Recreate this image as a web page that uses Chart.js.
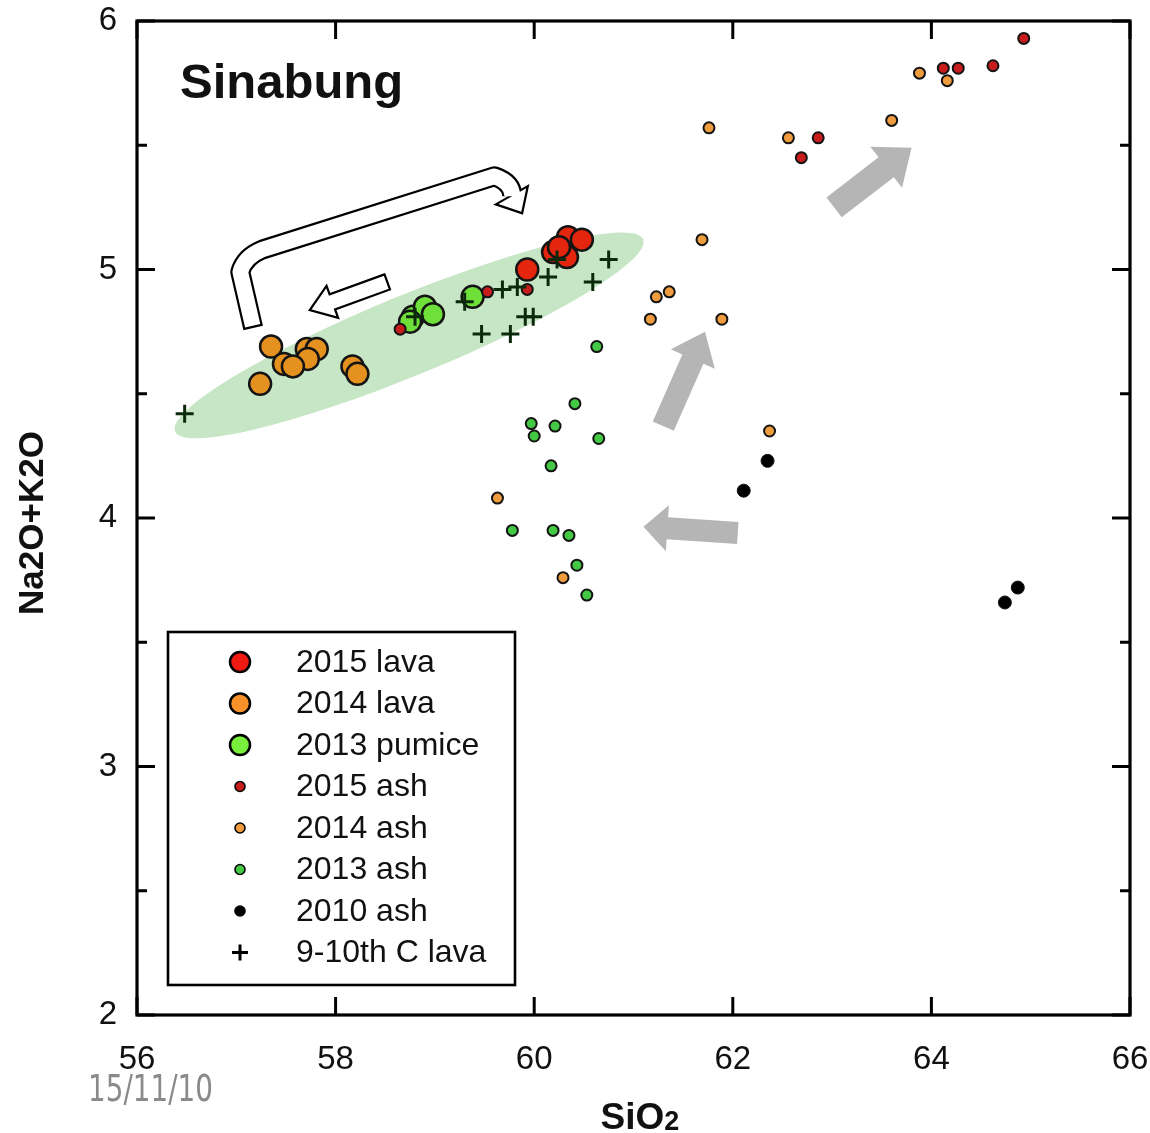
<!DOCTYPE html>
<html>
<head>
<meta charset="utf-8">
<script src="https://cdn.jsdelivr.net/npm/chart.js@4/dist/chart.umd.min.js"></script>
<style>
  html, body { margin: 0; padding: 0; background: #fff; }
  #wrap { position: relative; width: 1150px; height: 1133px; }
</style>
</head>
<body>
<div id="wrap"><canvas id="chart-tas" width="1150" height="1133"></canvas></div>
<script>
// Sinabung — total alkali vs silica

const X_TICKS = [56, 58, 60, 62, 64, 66];
const Y_TICKS = [2, 3, 4, 5, 6];

const LEGEND_LABELS = [
    "2015 lava", "2014 lava", "2013 pumice", "2015 ash",
    "2014 ash", "2013 ash", "2010 ash", "9-10th C lava",
];

// [SiO2, Na2O+K2O]
const lava2015 = [
    [60.34, 5.13], [60.48, 5.12], [60.19, 5.07], [60.33, 5.05], [60.25, 5.09], [59.93, 5.00],
];
const lava2014 = [
    [57.35, 4.69], [57.24, 4.54], [57.48, 4.62], [57.71, 4.68], [57.81, 4.68],
    [57.72, 4.64], [57.57, 4.61], [58.17, 4.61], [58.22, 4.58],
];
const pumice2013 = [
    [58.78, 4.81], [58.90, 4.85], [58.98, 4.82], [58.75, 4.79], [59.38, 4.89],
];
const ash2015 = [
    [58.65, 4.76], [59.53, 4.91], [59.93, 4.92], [64.93, 5.93], [64.12, 5.81],
    [64.27, 5.81], [64.62, 5.82], [62.86, 5.53], [62.69, 5.45],
];
const ash2014 = [
    [63.88, 5.79], [64.16, 5.76], [63.60, 5.60], [62.56, 5.53], [61.76, 5.57],
    [61.69, 5.12], [61.23, 4.89], [61.36, 4.91], [61.17, 4.80], [61.89, 4.80],
    [62.37, 4.35], [59.63, 4.08], [60.29, 3.76],
];
const ash2013 = [
    [60.63, 4.69], [60.41, 4.46], [59.97, 4.38], [60.21, 4.37], [60.00, 4.33],
    [60.65, 4.32], [60.17, 4.21], [59.78, 3.95], [60.19, 3.95], [60.35, 3.93],
    [60.43, 3.81], [60.53, 3.69],
];
const ash2010 = [
    [62.35, 4.23], [62.11, 4.11], [64.87, 3.72], [64.74, 3.66],
];
const lava910C = [
    [56.48, 4.42], [58.80, 4.81], [59.30, 4.87], [59.68, 4.92], [59.83, 4.93],
    [60.14, 4.97], [60.23, 5.04], [60.59, 4.95], [60.75, 5.04], [59.47, 4.74],
    [59.76, 4.74], [59.91, 4.81], [59.99, 4.81],
];

const FONT = "'Liberation Sans', Arial, Helvetica, sans-serif";

function pts(arr) {
    return arr.map(p => ({ x: p[0], y: p[1] }));
}

const STYLES = [
    { bg: "#e5260f", r: 11, bw: 2.5, ps: "circle" },
    { bg: "#e5911f", r: 11, bw: 2.5, ps: "circle" },
    { bg: "#6fe03a", r: 11, bw: 2.5, ps: "circle" },
    { bg: "#c81d1d", r: 5.5, bw: 2, ps: "circle" },
    { bg: "#ef9c3e", r: 5.5, bw: 2, ps: "circle" },
    { bg: "#43c943", r: 5.5, bw: 2, ps: "circle" },
    { bg: "#000000", r: 6.5, bw: 1, ps: "circle" },
    { bg: "#0b2a0b", r: 9, bw: 3, ps: "cross" },
];
const SERIES = [lava2015, lava2014, pumice2013, ash2015, ash2014, ash2013, ash2010, lava910C];
// drawing order: lavas under the crosses, small ash on top of lavas
const ORDER = [6, 7, 5, 3, 4, 2, 2, 0];

// annotations (data space)
function px(chart, x, y) {
    return [chart.scales.x.getPixelForValue(x), chart.scales.y.getPixelForValue(y)];
}

function blockArrow(ctx, a, b, shaftW, headW, headL, fill, stroke, lw) {
    const dx = b[0] - a[0], dy = b[1] - a[1];
    const len = Math.hypot(dx, dy);
    const ux = dx / len, uy = dy / len;
    const nx = -uy, ny = ux;
    const bx = b[0] - ux * headL, by = b[1] - uy * headL;
    ctx.beginPath();
    ctx.moveTo(a[0] + nx * shaftW / 2, a[1] + ny * shaftW / 2);
    ctx.lineTo(bx + nx * shaftW / 2, by + ny * shaftW / 2);
    ctx.lineTo(bx + nx * headW / 2, by + ny * headW / 2);
    ctx.lineTo(b[0], b[1]);
    ctx.lineTo(bx - nx * headW / 2, by - ny * headW / 2);
    ctx.lineTo(bx - nx * shaftW / 2, by - ny * shaftW / 2);
    ctx.lineTo(a[0] - nx * shaftW / 2, a[1] - ny * shaftW / 2);
    ctx.closePath();
    ctx.fillStyle = fill;
    ctx.fill();
    if (stroke) {
        ctx.lineWidth = lw;
        ctx.strokeStyle = stroke;
        ctx.lineJoin = "miter";
        ctx.stroke();
    }
}

const annotations = {
    id: "annotations",
    beforeDatasetsDraw(chart) {
        const ctx = chart.ctx;
        ctx.save();

        // green field
        const c = px(chart, 58.74, 4.735);
        ctx.beginPath();
        ctx.ellipse(c[0], c[1], 253, 40, -22.3 * Math.PI / 180, 0, Math.PI * 2);
        ctx.fillStyle = "#c7e6c5";
        ctx.fill();

        // grey arrows
        const grey = "#b5b5b5";
        blockArrow(ctx, px(chart, 63.02, 5.25), px(chart, 63.80, 5.49), 25, 52, 32, grey);
        blockArrow(ctx, px(chart, 61.30, 4.37), px(chart, 61.72, 4.75), 23, 48, 30, grey);
        blockArrow(ctx, px(chart, 62.05, 3.94), px(chart, 61.10, 3.965), 22, 46, 24, grey);

        // white straight arrow
        blockArrow(ctx, px(chart, 58.52, 4.95), px(chart, 57.74, 4.837), 16, 34, 24, "#fff", "#000", 2.2);

        // white U-shaped arrow
        const path = [
            px(chart, 57.17, 4.765),
            px(chart, 57.04, 4.99),
            px(chart, 57.08, 5.05),
            px(chart, 57.26, 5.08),
            px(chart, 59.60, 5.375),
            px(chart, 59.78, 5.35),
            px(chart, 59.78, 5.295),
        ];
        const tip = px(chart, 59.87, 5.232);
        const base = path[path.length - 1];
        const drawPath = (lw, col, inset) => {
            ctx.beginPath();
            const p0 = path[0], p1 = path[1];
            const l = Math.hypot(p1[0] - p0[0], p1[1] - p0[1]);
            ctx.moveTo(p0[0] + (p1[0] - p0[0]) / l * inset, p0[1] + (p1[1] - p0[1]) / l * inset);
            ctx.lineTo(p1[0], p1[1]);
            ctx.quadraticCurveTo(path[2][0], path[2][1], path[3][0], path[3][1]);
            ctx.lineTo(path[4][0], path[4][1]);
            ctx.quadraticCurveTo(path[5][0], path[5][1], path[6][0], path[6][1]);
            ctx.lineWidth = lw;
            ctx.strokeStyle = col;
            ctx.lineCap = "butt";
            ctx.lineJoin = "round";
            ctx.stroke();
        };
        const head = () => {
            const dx = tip[0] - base[0], dy = tip[1] - base[1];
            const l = Math.hypot(dx, dy);
            const nx = -dy / l, ny = dx / l;
            const hw = 16;
            ctx.beginPath();
            ctx.moveTo(base[0] + nx * hw, base[1] + ny * hw);
            ctx.lineTo(tip[0], tip[1]);
            ctx.lineTo(base[0] - nx * hw, base[1] - ny * hw);
            ctx.closePath();
        };
        drawPath(20, "#000", 0);
        head();
        ctx.fillStyle = "#000";
        ctx.fill();
        ctx.lineWidth = 4.4;
        ctx.strokeStyle = "#000";
        ctx.lineJoin = "miter";
        ctx.stroke();
        drawPath(15.6, "#fff", 2.2);
        head();
        ctx.fillStyle = "#fff";
        ctx.fill();

        ctx.restore();
    },
    afterDatasetsDraw(chart) {
        const ctx = chart.ctx;
        const a = chart.chartArea;
        const xs = chart.scales.x, ys = chart.scales.y;
        ctx.save();
        ctx.strokeStyle = "#000";
        ctx.lineWidth = 3;

        // inward ticks on all four sides
        ctx.beginPath();
        X_TICKS.forEach(v => {
            const x = xs.getPixelForValue(v);
            ctx.moveTo(x, a.bottom); ctx.lineTo(x, a.bottom - 18);
            ctx.moveTo(x, a.top); ctx.lineTo(x, a.top + 18);
        });
        Y_TICKS.forEach(v => {
            const y = ys.getPixelForValue(v);
            ctx.moveTo(a.left, y); ctx.lineTo(a.left + 18, y);
            ctx.moveTo(a.right, y); ctx.lineTo(a.right - 18, y);
            if (v < 6) {
                const ym = ys.getPixelForValue(v + 0.5);
                ctx.moveTo(a.left, ym); ctx.lineTo(a.left + 10, ym);
                ctx.moveTo(a.right, ym); ctx.lineTo(a.right - 10, ym);
            }
        });
        ctx.stroke();
        ctx.lineWidth = 3.2;
        ctx.strokeRect(a.left, a.top, a.right - a.left, a.bottom - a.top);

        // title
        ctx.fillStyle = "#111";
        ctx.font = "bold 49px " + FONT;
        ctx.textAlign = "left";
        ctx.textBaseline = "alphabetic";
        ctx.fillText("Sinabung", 180, 98);

        // legend box
        ctx.lineWidth = 2.6;
        ctx.fillStyle = "#fff";
        ctx.fillRect(168, 632, 347, 353);
        ctx.strokeRect(168, 632, 347, 353);
        LEGEND_LABELS.forEach((lab, i) => {
            const y = 662 + i * 41.5;
            const s = STYLES[i];
            if (s.ps === "cross") {
                ctx.beginPath();
                ctx.moveTo(232, y); ctx.lineTo(248, y);
                ctx.moveTo(240, y - 8); ctx.lineTo(240, y + 8);
                ctx.lineWidth = 3;
                ctx.strokeStyle = "#000";
                ctx.stroke();
            } else {
                const r = s.r > 8 ? 10 : 5;
                ctx.beginPath();
                ctx.arc(240, y, r, 0, Math.PI * 2);
                ctx.fillStyle = i === 0 ? "#f01a12" : i === 1 ? "#f7922a" : i === 2 ? "#78ef3c" : s.bg;
                ctx.fill();
                ctx.lineWidth = s.r > 8 ? 2.5 : 1.6;
                ctx.strokeStyle = "#000";
                ctx.stroke();
            }
            ctx.fillStyle = "#111";
            ctx.font = "32px " + FONT;
            ctx.textBaseline = "middle";
            ctx.fillText(lab, 296, y + 1);
        });

        // axis titles
        ctx.textBaseline = "alphabetic";
        ctx.fillStyle = "#111";
        ctx.font = "bold 37px " + FONT;
        const w1 = ctx.measureText("SiO").width;
        ctx.font = "bold 27px " + FONT;
        const w2 = ctx.measureText("2").width;
        const sx = 640 - (w1 + w2) / 2;
        ctx.font = "bold 37px " + FONT;
        ctx.fillText("SiO", sx, 1129);
        ctx.font = "bold 27px " + FONT;
        ctx.fillText("2", sx + w1, 1130);

        ctx.save();
        ctx.translate(43, 523);
        ctx.rotate(-Math.PI / 2);
        ctx.textAlign = "center";
        ctx.font = "bold 35px " + FONT;
        ctx.fillText("Na2O+K2O", 0, 0);
        ctx.restore();

        // date stamp, squeezed to the narrow width of the original
        ctx.save();
        ctx.fillStyle = "#8a8a8a";
        ctx.font = "37px 'Liberation Sans Narrow', 'DejaVu Sans Condensed', sans-serif";
        ctx.textAlign = "left";
        const dw = ctx.measureText("15/11/10").width;
        ctx.translate(88, 1101);
        ctx.scale(125 / dw, 1);
        ctx.fillText("15/11/10", 0, 0);
        ctx.restore();

        ctx.restore();
    },
};

const datasets = SERIES.map((arr, i) => ({
    label: LEGEND_LABELS[i],
    data: pts(arr),
    pointStyle: STYLES[i].ps,
    pointRadius: STYLES[i].r,
    pointBackgroundColor: STYLES[i].bg,
    pointBorderColor: STYLES[i].ps === "cross" ? STYLES[i].bg : "#141414",
    pointBorderWidth: STYLES[i].bw,
    showLine: false,
    order: ORDER[i],
}));

const ctx = document.getElementById("chart-tas").getContext("2d");
const chartTas = new Chart(ctx, {
    type: "scatter",
    data: { datasets: datasets },
    options: {
        responsive: false,
        devicePixelRatio: 1,
        animation: false,
        layout: { padding: { top: 21, right: 20, left: 0, bottom: 0 } },
        plugins: {
            legend: { display: false },
            tooltip: { enabled: false },
        },
        scales: {
            x: {
                type: "linear",
                min: 56,
                max: 66,
                afterBuildTicks: s => { s.ticks = X_TICKS.map(v => ({ value: v })); },
                ticks: { font: { size: 33, family: FONT }, color: "#111", padding: 25, maxRotation: 0 },
                grid: { display: false, drawTicks: false },
                border: { display: false },
                afterFit: s => { s.height = 118; s.paddingLeft = 0; s.paddingRight = 0; },
            },
            y: {
                type: "linear",
                min: 2,
                max: 6,
                afterBuildTicks: s => { s.ticks = Y_TICKS.map(v => ({ value: v })); },
                ticks: { font: { size: 33, family: FONT }, color: "#111", padding: 20 },
                grid: { display: false, drawTicks: false },
                border: { display: false },
                afterFit: s => { s.width = 137; s.paddingTop = 0; s.paddingBottom = 0; },
            },
        },
    },
    plugins: [annotations],
});
</script>
</body>
</html>
